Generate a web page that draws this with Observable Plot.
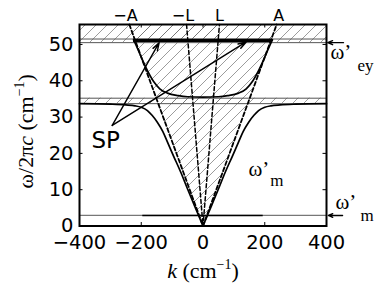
<!DOCTYPE html>
<html><head><meta charset="utf-8">
<script src="https://cdn.jsdelivr.net/npm/d3@7"></script>
<script src="https://cdn.jsdelivr.net/npm/@observablehq/plot@0.6"></script>
<style>html,body{margin:0;padding:0;background:#fff}</style>
</head><body><div id="chart"></div>
<script>
// ---- data ----
const xTicks = [-400, -200, 0, 200, 400];
const yTicks = [0, 10, 20, 30, 40, 50];
const xLabel = "k (cm−1)";
const yLabel = "ω/2πc (cm−1)";

// lower surface-polariton branch
const lowerLeftK  = [-400, -300, -250, -220, -200, -180, -165, -148, -130, -115, -95, -72, -50, -29, 0];
const lowerLeftW  = [33.7, 33.55, 33.35, 33.1, 32.7, 31.8, 30.5, 28.6, 26.0, 23.1, 19.2, 14.8, 10.2, 5.9, 0];
const lowerRightK = [0, 29, 50, 72, 95, 115, 130, 148, 165, 180, 200, 220, 250, 300, 400];
const lowerRightW = [0, 5.9, 10.2, 14.8, 19.2, 23.1, 26.0, 28.6, 30.5, 31.8, 32.7, 33.1, 33.35, 33.55, 33.7];

// upper surface-polariton branch
const upperK = [-225, -215, -200, -180, -160, -140, -115, -80, -50, 0, 50, 80, 115, 140, 160, 180, 200, 215, 225];
const upperW = [51.3, 49.5, 46.5, 42.8, 39.8, 37.8, 36.6, 35.9, 35.6, 35.5, 35.6, 35.9, 36.6, 37.8, 39.8, 42.8, 46.5, 49.5, 51.3];

// light lines A and L (V shapes through the origin)
const aLineK = [-238.6, 0, 238.6];
const aLineW = [55.5, 0, 55.5];
const lLineK = [-53.3, 0, 53.3];
const lLineW = [55.5, 0, 55.5];

// hatched cone between the A lines
const coneW = [0, 55.5];
const coneLeft = [0, -238.6];
const coneRight = [0, 238.6];

// hatched horizontal bands
const bandLow = [33.7, 50.5];
const bandHigh = [35.2, 55.5];
const bandLines = [33.7, 35.2, 50.5, 51.5];

// omega'_m level and thick top segment
const wmLevel = [2.9];
const wmBlackK = [-195, 195];
const topThickW = [51.1];
const topThickK = [-225, 225];

// SP arrows
const spFromK = [-294, -294];
const spFromW = [27.7, 27.7];
const spToK = [-142, 140];
const spToW = [50.5, 50.7];

// side arrows (omega'_ey, omega'_m)
const sideFromK = [455, 452];
const sideToK = [404, 406];
const sideW = [50.5, 2.9];

// top labels
const topLabels = ["−A", "−L", "L", "A"];
const topLabelK = [-251, -65, 53, 245];
const topLabelW = 56.6;

// omega labels
const omegaText = ["ω’", "ω’", "ω’"];
const omegaK = [147, 413, 429];
const omegaW = [13.9, 46.1, 4.8];
const subText = ["m", "ey", "m"];
const subK = [218, 500, 510];
const subW = [11.15, 42.8, 1.5];

const spLabel = ["SP"];
const spK = [-315];
const spW = [21.35];

// ---- build tables ----
const lower = [
  ...lowerLeftK.map((k, i) => ({k, w: lowerLeftW[i], b: "L"})),
  ...lowerRightK.map((k, i) => ({k, w: lowerRightW[i], b: "R"}))
];
const upper = upperK.map((k, i) => ({k, w: upperW[i]}));
const aLine = aLineK.map((k, i) => ({k, w: aLineW[i]}));
const lLine = lLineK.map((k, i) => ({k, w: lLineW[i]}));
const cone = coneW.map((w, i) => ({w, x1: coneLeft[i], x2: coneRight[i]}));
const bands = bandLow.map((y1, i) => ({y1, y2: bandHigh[i]}));
const spArrows = spFromK.map((k, i) => ({x1: k, y1: spFromW[i], x2: spToK[i], y2: spToW[i]}));
const sideArrows = sideFromK.map((k, i) => ({x1: k, x2: sideToK[i], y: sideW[i]}));
const omegas = omegaText.map((t, i) => ({t, k: omegaK[i], w: omegaW[i]}));
const subs = subText.map((t, i) => ({t, k: subK[i], w: subW[i]}));
const tops = topLabels.map((t, i) => ({t, k: topLabelK[i]}));

const W = 382, H = 284;
const mL = 79, mR = 56, mT = 24, mB = 58.5;
const pW = W - mL - mR, pH = H - mT - mB;
const serif = "Liberation Serif";
const sans = "DejaVu Sans";
const fmt = d => d < 0 ? "−" + (-d) : String(d);

const svg = Plot.plot({
  width: W, height: H,
  marginLeft: mL, marginRight: mR, marginTop: mT, marginBottom: mB,
  style: {fontFamily: sans, background: "white", color: "black"},
  x: {domain: [-400, 400]},
  y: {domain: [0, 55.5]},
  marks: [
    Plot.areaX(cone, {y: "w", x1: "x1", x2: "x2", fill: "url(#hatch)"}),
    Plot.rect(bands, {x1: -400, x2: 400, y1: "y1", y2: "y2", fill: "url(#hatch)"}),
    Plot.ruleY(bandLines, {stroke: "#555", strokeWidth: 1}),
    Plot.ruleY(wmLevel, {stroke: "#777", strokeWidth: 1.3}),
    Plot.ruleY(wmLevel, {x1: wmBlackK[0], x2: wmBlackK[1], stroke: "black", strokeWidth: 1.5}),
    Plot.line(lLine, {x: "k", y: "w", stroke: "black", strokeWidth: 1.5, strokeDasharray: "4,2.5"}),
    Plot.line(aLine, {x: "k", y: "w", stroke: "black", strokeWidth: 1.8, strokeDasharray: "4,2.5"}),
    Plot.line(lower, {x: "k", y: "w", z: "b", curve: "monotone-x", stroke: "black", strokeWidth: 1.7}),
    Plot.line(upper, {x: "k", y: "w", curve: "monotone-x", stroke: "black", strokeWidth: 1.7}),
    Plot.ruleY(topThickW, {x1: topThickK[0], x2: topThickK[1], stroke: "black", strokeWidth: 3.2}),
    Plot.arrow(spArrows, {x1: "x1", y1: "y1", x2: "x2", y2: "y2", stroke: "black", strokeWidth: 1.4, headLength: 9, headAngle: 35}),
    Plot.arrow(sideArrows, {x1: "x1", y1: "y", x2: "x2", y2: "y", stroke: "black", strokeWidth: 1.4, headLength: 8, headAngle: 45}),
    Plot.text(tops, {x: "k", y: topLabelW, text: "t", fontSize: 16, lineAnchor: "bottom", fontFamily: sans}),
    Plot.text(spLabel, {x: spK, y: spW, text: d => d, fontSize: 23, lineAnchor: "bottom", fontFamily: sans}),
    Plot.text(omegas, {x: "k", y: "w", text: "t", fontSize: 21, lineAnchor: "bottom", textAnchor: "start", fontFamily: serif}),
    Plot.text(subs, {x: "k", y: "w", text: "t", fontSize: 17, lineAnchor: "bottom", textAnchor: "start", fontFamily: serif}),
    // inward ticks on all four sides
    Plot.tickX(xTicks, {x: d => d, insetTop: pH - 3.5, stroke: "black", strokeWidth: 1}),
    Plot.tickX(xTicks, {x: d => d, insetBottom: pH - 3.5, stroke: "black", strokeWidth: 1}),
    Plot.tickY(yTicks, {y: d => d, insetRight: pW - 3.5, stroke: "black", strokeWidth: 1}),
    Plot.tickY(yTicks, {y: d => d, insetLeft: pW - 3.5, stroke: "black", strokeWidth: 1}),
    Plot.axisX({ticks: xTicks, tickSize: 0, tickPadding: 9, tickFormat: fmt, fontSize: 19.5, label: null}),
    Plot.axisY({ticks: yTicks, tickSize: 0, tickPadding: 6, tickFormat: fmt, fontSize: 19.5, label: null}),
    Plot.text([xLabel], {frameAnchor: "bottom", dy: 51.5, text: d => d, fontSize: 22, lineAnchor: "bottom", fontFamily: serif}),
    Plot.text([yLabel], {frameAnchor: "left", dx: -47, dy: 6, rotate: -90, textAnchor: "middle", text: d => d, fontSize: 22, lineAnchor: "bottom", fontFamily: serif}),
    Plot.frame({stroke: "black", strokeWidth: 2})
  ]
});

// hatch pattern
const ns = "http://www.w3.org/2000/svg";
const defs = document.createElementNS(ns, "defs");
const pat = document.createElementNS(ns, "pattern");
const s = 11;
pat.setAttribute("id", "hatch");
pat.setAttribute("patternUnits", "userSpaceOnUse");
pat.setAttribute("width", s);
pat.setAttribute("height", s);
const p = document.createElementNS(ns, "path");
p.setAttribute("d", `M0,${s} L${s},0 M-2,2 L2,-2 M${s - 2},${s + 2} L${s + 2},${s - 2}`);
p.setAttribute("stroke", "#666");
p.setAttribute("stroke-width", "0.65");
pat.appendChild(p);
defs.appendChild(pat);
svg.insertBefore(defs, svg.firstChild);

// rich axis labels (italic variable, superscript exponent)
function rich(el, parts) {
  el.textContent = "";
  for (const [txt, attrs] of parts) {
    const t = document.createElementNS(ns, "tspan");
    t.textContent = txt;
    for (const a in attrs) t.setAttribute(a, attrs[a]);
    el.appendChild(t);
  }
}
d3.select(svg).selectAll("text").each(function() {
  if (this.textContent === xLabel) {
    rich(this, [["k", {"font-style": "italic"}], [" (cm", {}], ["−1", {"font-size": 14, dy: -9}], [")", {dy: 9}]]);
  } else if (this.textContent === yLabel) {
    rich(this, [["ω/2π", {}], ["c", {"font-style": "italic"}], [" (cm", {}], ["−1", {"font-size": 14, dy: -9}], [")", {dy: 9}]]);
  }
});

document.getElementById("chart").appendChild(svg);
</script>
</body></html>
